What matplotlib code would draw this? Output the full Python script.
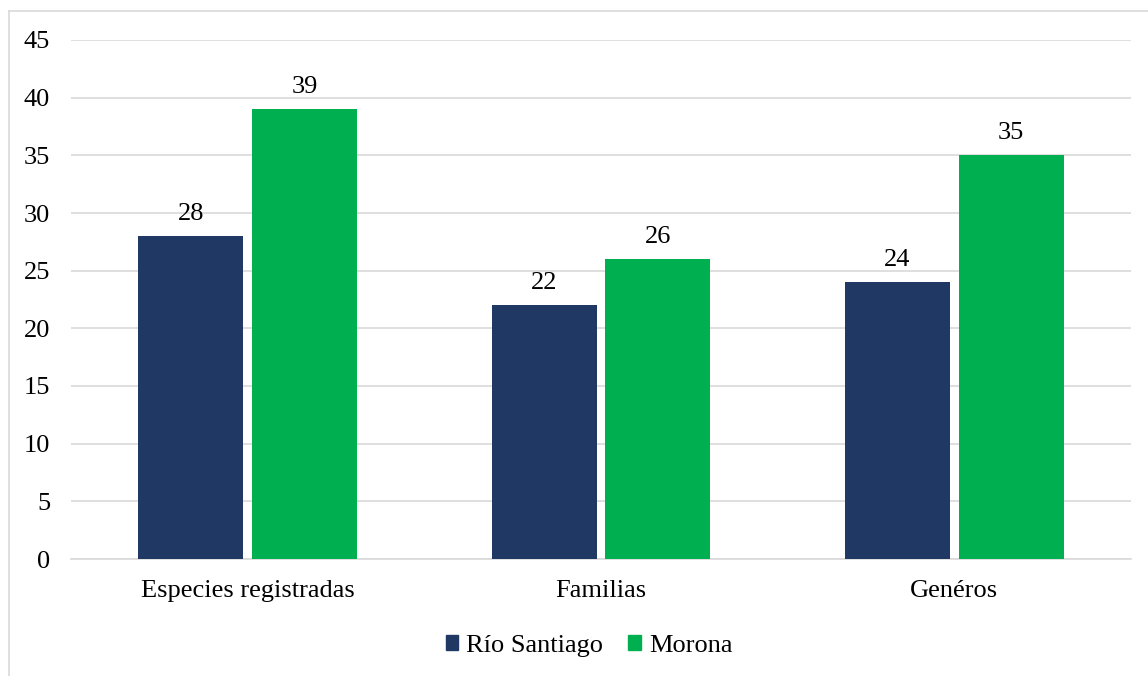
import matplotlib.pyplot as plt
from matplotlib.lines import Line2D
import numpy as np

categories = ['Especies registradas', 'Familias', 'Genéros']
rio_santiago = [28, 22, 24]
morona = [39, 26, 35]
series_names = ['Río Santiago', 'Morona']

navy = '#203864'
green = '#00B050'
grid_c = '#d9d9d9'

plt.rcParams['font.family'] = ['Liberation Serif', 'DejaVu Serif']
fs = 19

fig = plt.figure(figsize=(11.48, 6.76), dpi=100)
W, H = 1148, 676
ax = fig.add_axes([71 / W, 1 - 559 / H, (1131 - 71) / W, (559 - 40) / H])

x = np.arange(len(categories))
bw = 0.297
off = 0.161
b1 = ax.bar(x - off, rio_santiago, bw, color=navy, zorder=3)
b2 = ax.bar(x + off, morona, bw, color=green, zorder=3)

for bars, vals in [(b1, rio_santiago), (b2, morona)]:
    for r, v in zip(bars, vals):
        ax.text(r.get_x() + r.get_width() / 2, v + 1.0, str(v),
                ha='center', va='bottom', fontsize=fs, color='black')

ax.set_xlim(-0.5, len(categories) - 0.5)
ax.set_ylim(0, 45)
ax.set_yticks(range(0, 46, 5))
ax.yaxis.grid(True, color=grid_c, linewidth=1.2, zorder=0)
ax.set_axisbelow(True)
for s in ['top', 'right', 'left']:
    ax.spines[s].set_visible(False)
ax.spines['bottom'].set_color(grid_c)
ax.spines['bottom'].set_linewidth(1.2)
ax.tick_params(axis='both', length=0, labelsize=fs, colors='black')
ax.tick_params(axis='y', pad=15)
ax.tick_params(axis='x', pad=15)
ax.set_xticks(x)
ax.set_xticklabels(categories)

handles = [plt.Rectangle((0, 0), 1, 1, color=navy), plt.Rectangle((0, 0), 1, 1, color=green)]
fig.legend(handles, series_names, loc='center', bbox_to_anchor=(589 / W, 1 - 646 / H),
           ncol=2, frameon=False, fontsize=fs, handlelength=0.48, handleheight=0.48,
           handletextpad=0.3, columnspacing=0.95)

# outer chart border (top and left edges)
fig.add_artist(Line2D([9 / W, 1.0], [1 - 11 / H] * 2, color=grid_c, lw=1.2))
fig.add_artist(Line2D([9 / W] * 2, [0.0, 1 - 11 / H], color=grid_c, lw=1.2))

fig.savefig('out.png', dpi=100)
